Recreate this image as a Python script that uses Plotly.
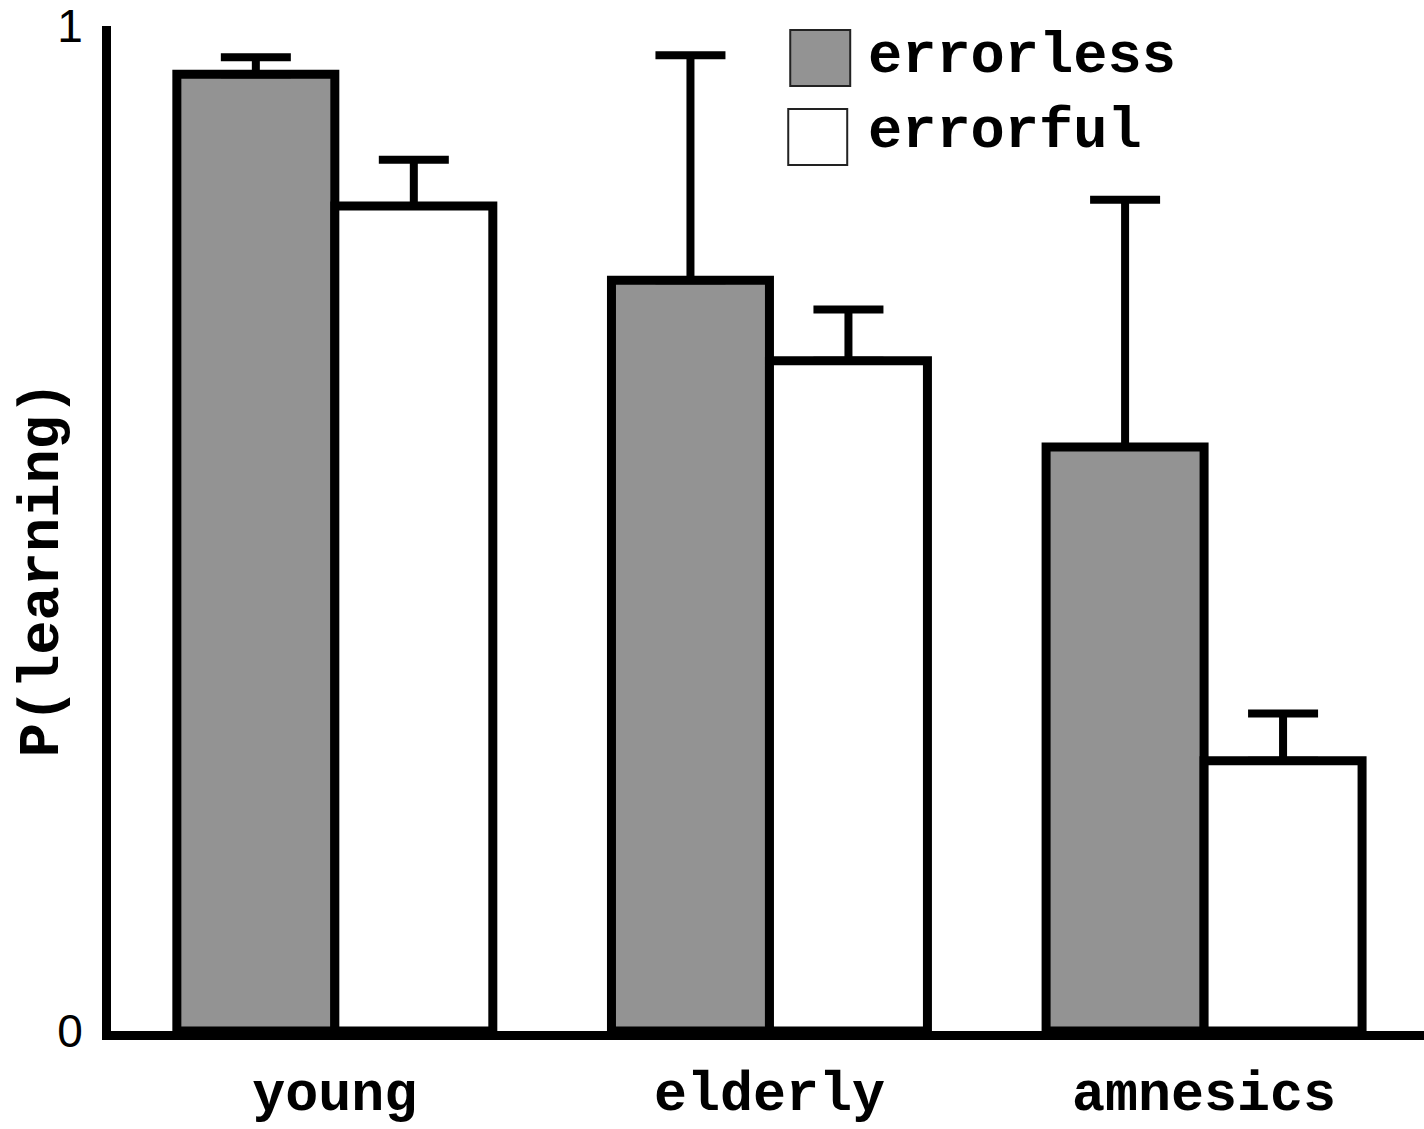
import plotly.graph_objects as go

# Proportion learned per group and training condition
groups = ["young", "elderly", "amnesics"]
errorless = [0.952, 0.747, 0.581]
errorless_err = [0.017, 0.224, 0.246]
errorful = [0.821, 0.667, 0.269]
errorful_err = [0.046, 0.051, 0.047]
zeros = [0, 0, 0]

GRAY = "#939393"
MONO = "Liberation Mono"

W, H = 1424, 1129
L, R, T, B = 110.5, 0, 26, 97.5
PW, PH = W - L - R, H - T - B


def px_x(px):
    return (px - L) / PW


def px_y(py):
    return (H - B - py) / PH


fig = go.Figure()

fig.add_trace(go.Bar(
    name="errorless", x=groups, y=errorless,
    marker=dict(color=GRAY, line=dict(color="black", width=9)),
    error_y=dict(type="data", array=errorless_err, arrayminus=zeros,
                 symmetric=False, color="black", thickness=8, width=35),
    cliponaxis=False,
))
fig.add_trace(go.Bar(
    name="errorful", x=groups, y=errorful,
    marker=dict(color="white", line=dict(color="black", width=9)),
    error_y=dict(type="data", array=errorful_err, arrayminus=zeros,
                 symmetric=False, color="black", thickness=8, width=35),
    cliponaxis=False,
))

# Hand-drawn legend: large swatches with monospace labels
legend_items = [
    ("errorless", GRAY, (790, 30, 850, 86), 57),
    ("errorful", "white", (788, 109, 847, 165), 132),
]
for label, fill, (x0, y0, x1, y1), ty in legend_items:
    fig.add_shape(type="rect", xref="paper", yref="paper",
                  x0=px_x(x0), x1=px_x(x1), y0=px_y(y1), y1=px_y(y0),
                  fillcolor=fill, line=dict(color="#222222", width=2))
    fig.add_annotation(text=label, xref="paper", yref="paper",
                       x=px_x(866), y=px_y(ty), xanchor="left", yanchor="middle",
                       showarrow=False,
                       font=dict(family=MONO, size=57, color="black", weight="bold"))

# Rotated y-axis title
fig.add_annotation(text="P(learning)", xref="paper", yref="paper",
                   x=px_x(42), y=px_y(570), xanchor="center", yanchor="middle",
                   textangle=-90, showarrow=False,
                   font=dict(family=MONO, size=57, color="black", weight="bold"))

fig.update_layout(
    width=W, height=H,
    margin=dict(l=L, r=R, t=T, b=B, autoexpand=False),
    paper_bgcolor="white", plot_bgcolor="white",
    barmode="group", bargap=0.273, bargroupgap=0,
    showlegend=False,
    xaxis=dict(
        range=[-0.515, 2.506], showgrid=False, zeroline=False,
        showline=True, linecolor="black", linewidth=9,
        ticks="", ticklabelstandoff=4,
        tickfont=dict(family=MONO, size=55, color="black", weight="bold"),
    ),
    yaxis=dict(
        range=[0, 1], showgrid=False, zeroline=False,
        showline=True, linecolor="black", linewidth=9,
        ticks="", tickvals=[0, 1], ticktext=["0", "1"], ticklabelstandoff=10,
        tickfont=dict(family="Liberation Sans", size=46, color="black"),
    ),
)

fig.write_html("out.html")
